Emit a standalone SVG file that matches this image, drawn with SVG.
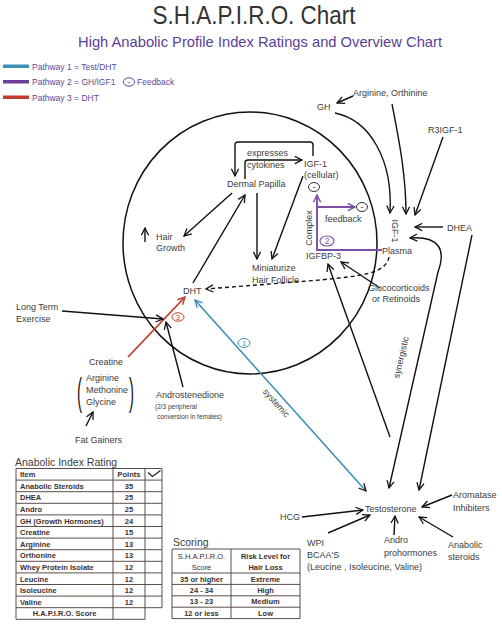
<svg xmlns="http://www.w3.org/2000/svg" width="502" height="628" viewBox="0 0 502 628">
<style>
text{font-family:"Liberation Sans",Arial,sans-serif;}
.l{font-size:9px;fill:#3c3c3c;}
.s{font-size:6.5px;fill:#3c3c3c;}
.lg{font-size:8.5px;fill:#5b4a9e;}
.a{fill:none;stroke:#111;stroke-width:1.4;marker-end:url(#ah);}
.p{fill:none;stroke:#7b4fa8;stroke-width:1.9;}
.tb{font-size:7.5px;font-weight:bold;fill:#3a3030;}
.tr{font-size:7.5px;fill:#3a3030;}
.grid{fill:none;stroke:#5a4d48;stroke-width:1;}
.h{font-size:10.5px;fill:#3c3c3c;}
</style>
<defs>
<marker id="ah" viewBox="0 0 10 10" refX="9" refY="5" markerWidth="9" markerHeight="9" markerUnits="userSpaceOnUse" orient="auto-start-reverse"><path d="M1,1 L9,5 L1,9" fill="none" stroke="#111" stroke-width="1.4"/></marker>
<marker id="ahP" viewBox="0 0 10 10" refX="9" refY="5" markerWidth="9" markerHeight="9" markerUnits="userSpaceOnUse" orient="auto"><path d="M1,1 L9,5 L1,9" fill="none" stroke="#7b4fa8" stroke-width="1.6"/></marker>
<marker id="ahB" viewBox="0 0 10 10" refX="9" refY="5" markerWidth="9" markerHeight="9" markerUnits="userSpaceOnUse" orient="auto"><path d="M1,1 L9,5 L1,9" fill="none" stroke="#3a8fb2" stroke-width="1.5"/></marker>
<marker id="ahR" viewBox="0 0 10 10" refX="9" refY="5" markerWidth="9" markerHeight="9" markerUnits="userSpaceOnUse" orient="auto"><path d="M1,1 L9,5 L1,9" fill="none" stroke="#c23a2b" stroke-width="1.5"/></marker>
</defs>
<rect width="502" height="628" fill="#fff"/>

<g id="title">
<text x="254" y="24" text-anchor="middle" font-family="Roboto, 'Liberation Sans', sans-serif" font-weight="300" font-size="26" fill="#333" textLength="203" lengthAdjust="spacingAndGlyphs">S.H.A.P.I.R.O. Chart</text>
<text x="260" y="47" text-anchor="middle" font-size="15" fill="#5a3f98" textLength="364" lengthAdjust="spacingAndGlyphs">High Anabolic Profile Index Ratings and Overview Chart</text>
</g>

<g id="legend">
<rect x="3" y="64.5" width="26" height="3.5" fill="#3a8fb2"/>
<text class="lg" x="32" y="69.5">Pathway 1 = Test/DHT</text>
<rect x="3" y="80" width="26" height="3.5" fill="#6d3f9a"/>
<text class="lg" x="32" y="85">Pathway 2 = GH/IGF1</text>
<ellipse cx="129" cy="82" rx="5.5" ry="4.2" fill="none" stroke="#5b4a9e" stroke-width="1"/>
<text class="lg" x="129" y="84.5" text-anchor="middle">-</text>
<text class="lg" x="137" y="85">Feedback</text>
<rect x="3" y="95.5" width="26" height="3.5" fill="#c23a2b"/>
<text class="lg" x="32" y="100.5">Pathway 3 = DHT</text>
</g>

<g id="follicle-circle">
<ellipse cx="250" cy="243" rx="127" ry="131" fill="none" stroke="#111" stroke-width="1.5"/>
</g>

<g id="connectors">
<path class="a" d="M313,156 V145 Q313,142 310,142 H238 Q235,142 235,145 V176"/>
<path class="a" d="M245,179 V163 Q245,160 248,160 H302"/>
<path class="a" d="M232,193 L184,236"/>
<path class="a" d="M145,242 V228"/>
<path class="a" d="M193,283 L245,195"/>
<path class="a" d="M257,193 V259"/>
<path class="a" d="M303,176 L272,259"/>
<path class="a" d="M335,113 C370,120 393,160 390,213"/>
<path class="a" d="M353,96 L337,103"/>
<path class="a" d="M392,104 C399,140 406,175 406,214"/>
<path class="a" d="M443,137 L415,215"/>
<path class="a" d="M443,227 H415"/>
<path class="a" d="M410,238 C440,236 446,250 438,272 L389,488" marker-start="url(#ah)"/>
<path class="a" d="M472,235 L419,490"/>
<path class="a" d="M389,257 C386,274 360,276 320,280 L206,289" stroke-dasharray="4,3"/>
<path class="a" d="M380,288 L341,262"/>
<path class="a" d="M390,437 L328,264"/>
<path class="p" d="M382,250 H317 V195" marker-end="url(#ahP)"/>
<path class="p" d="M317,207 H355" marker-end="url(#ahP)"/>
<path d="M366,491 L195,300" fill="none" stroke="#3a8fb2" stroke-width="1.6" marker-end="url(#ahB)" marker-start="url(#ah)"/>
<path d="M128,357 L185,297" fill="none" stroke="#c23a2b" stroke-width="1.8" marker-end="url(#ahR)"/>
<path class="a" d="M62,311 L163,319"/>
<path class="a" d="M183,387 L166,322"/>
<path class="a" d="M86,426 L93,412"/>
<path class="a" d="M302,517 L363,510"/>
<path class="a" d="M328,533 L370,515"/>
<path class="a" d="M394,535 L395,516"/>
<path class="a" d="M452,495 L422,507"/>
<path class="a" d="M453,537 L419,517"/>
</g>

<g id="expresses-cytokines"><text class="l" x="247" y="156">expresses</text><text class="l" x="247" y="168">cytokines</text></g>
<g id="igf1-cellular"><text class="l" x="304" y="166.5">IGF-1</text><text class="l" x="304" y="178">(cellular)</text>
<ellipse cx="314" cy="187" rx="5.5" ry="4.5" fill="#fff" stroke="#333" stroke-width="1"/><text class="l" x="314" y="190" text-anchor="middle">-</text></g>
<g id="dermal-papilla"><text class="l" x="227" y="187">Dermal Papilla</text></g>
<g id="hair-growth"><text class="l" x="156" y="240">Hair</text><text class="l" x="156" y="251">Growth</text></g>
<g id="miniaturize"><text class="l" x="252" y="271">Miniaturize</text><text class="l" x="252" y="283">Hair Follicle</text></g>
<g id="dht"><text class="l" x="183" y="294">DHT</text></g>
<g id="feedback"><text class="l" x="325" y="222">feedback</text>
<ellipse cx="362" cy="207" rx="5.5" ry="4.5" fill="#fff" stroke="#333" stroke-width="1"/><text class="l" x="362" y="210" text-anchor="middle">-</text></g>
<g id="complex"><text class="l" transform="translate(311.5,228) rotate(-90)" text-anchor="middle">Complex</text>
<ellipse cx="327" cy="241" rx="7" ry="5" fill="#fff" stroke="#7b4fa8" stroke-width="1.1"/><text x="327" y="244" text-anchor="middle" font-size="8.5" fill="#7b4fa8">2</text></g>
<g id="igfbp3"><text class="l" x="306" y="258.5">IGFBP-3</text></g>
<g id="plasma"><text class="l" x="382" y="253.5">Plasma</text></g>
<g id="igf1-plasma"><text class="l" transform="translate(392,231) rotate(90)" text-anchor="middle">IGF-1</text></g>
<g id="gh"><text class="l" x="317" y="110">GH</text></g>
<g id="arginine-orthinine"><text class="l" x="353" y="96">Arginine, Orthinine</text></g>
<g id="r3igf1"><text class="l" x="428" y="133">R3IGF-1</text></g>
<g id="dhea"><text class="l" x="447" y="230.5">DHEA</text></g>
<g id="glucocorticoids"><text class="l" x="368" y="291">Glucocorticoids</text><text class="l" x="372" y="302">or Retinoids</text></g>
<g id="long-term-exercise"><text class="l" x="16" y="310">Long Term</text><text class="l" x="16" y="322">Exercise</text></g>
<g id="pathway3-marker"><ellipse cx="178" cy="317" rx="6" ry="4.2" fill="#fff" stroke="#c23a2b" stroke-width="1"/><text x="178" y="319.5" text-anchor="middle" font-size="7" fill="#c23a2b">3</text></g>
<g id="pathway1-marker"><ellipse cx="244" cy="343" rx="6" ry="4.5" fill="#fff" stroke="#3a8fb2" stroke-width="1"/><text x="244" y="345.7" text-anchor="middle" font-size="7.5" fill="#3a8fb2">1</text></g>
<g id="systemic"><text class="l" transform="translate(274,405) rotate(48)" text-anchor="middle">systemic</text></g>
<g id="synergistic"><text class="l" transform="translate(404,358) rotate(-77)" text-anchor="middle">synergistic</text></g>
<g id="creatine"><text class="l" x="89" y="365">Creatine</text></g>
<g id="amino-acids">
<text transform="translate(77,405) scale(1,2.6)" font-size="15" fill="#222">(</text>
<text transform="translate(129,405) scale(1,2.6)" font-size="15" fill="#222">)</text>
<text class="l" x="86" y="381">Arginine</text><text class="l" x="86" y="393">Methonine</text><text class="l" x="86" y="405">Glycine</text></g>
<g id="fat-gainers"><text class="l" x="75" y="443">Fat Gainers</text></g>
<g id="androstenedione"><text class="l" x="156" y="398">Androstenedione</text><text class="s" x="155" y="408.5">(2/3 peripheral</text><text class="s" x="157" y="418.5">conversion in females)</text></g>
<g id="testosterone"><text class="l" x="365" y="512">Testosterone</text></g>
<g id="hcg"><text class="l" x="280" y="520">HCG</text></g>
<g id="wpi-bcaa"><text class="l" x="307" y="546">WPI</text><text class="l" x="307" y="558">BCAA'S</text><text class="l" x="307" y="570">(Leucine , Isoleucine, Valine)</text></g>
<g id="andro-prohormones"><text class="l" x="384" y="543">Andro</text><text class="l" x="384" y="556">prohormones</text></g>
<g id="aromatase-inhibiters"><text class="l" x="453" y="498">Aromatase</text><text class="l" x="453" y="511">Inhibiters</text></g>
<g id="anabolic-steroids"><text class="l" x="448" y="548">Anabolic</text><text class="l" x="448" y="560">steroids</text></g>

<g id="anabolic-index-table">
<text class="h" x="15" y="466">Anabolic Index Rating</text>
<path class="grid" d="M16,468.5 H162 M16,480.1 H162 M16,491.7 H162 M16,503.3 H162 M16,514.9 H162 M16,526.5 H162 M16,538.1 H162 M16,549.7 H162 M16,561.3 H162 M16,572.9 H162 M16,584.5 H162 M16,596.1 H162 M16,607.7 H162 M16,619.3 H145 M16,468.5 V619.3 M113,468.5 V619.3 M145,468.5 V619.3 M162,468.5 V607.7"/>
<path d="M148,472.5 L152.5,476.5 L160.5,470.5" fill="none" stroke="#222" stroke-width="1.2"/>
<text class="tb" x="20" y="477.1">Item</text><text class="tb" x="129" y="477.1" text-anchor="middle">Points</text>
<text class="tb" x="20" y="488.7">Anabolic  Steroids</text><text class="tb" x="129" y="488.7" text-anchor="middle">35</text>
<text class="tb" x="20" y="500.3">DHEA</text><text class="tb" x="129" y="500.3" text-anchor="middle">25</text>
<text class="tb" x="20" y="511.9">Andro</text><text class="tb" x="129" y="511.9" text-anchor="middle">25</text>
<text class="tb" x="20" y="523.5">GH (Growth Hormones)</text><text class="tb" x="129" y="523.5" text-anchor="middle">24</text>
<text class="tb" x="20" y="535.1">Creatine</text><text class="tb" x="129" y="535.1" text-anchor="middle">15</text>
<text class="tb" x="20" y="546.7">Arginine</text><text class="tb" x="129" y="546.7" text-anchor="middle">13</text>
<text class="tb" x="20" y="558.3">Orthonine</text><text class="tb" x="129" y="558.3" text-anchor="middle">13</text>
<text class="tb" x="20" y="569.9">Whey Protein Isolate</text><text class="tb" x="129" y="569.9" text-anchor="middle">12</text>
<text class="tb" x="20" y="581.5">Leucine</text><text class="tb" x="129" y="581.5" text-anchor="middle">12</text>
<text class="tb" x="20" y="593.1">Isoleucine</text><text class="tb" x="129" y="593.1" text-anchor="middle">12</text>
<text class="tb" x="20" y="604.7">Valine</text><text class="tb" x="129" y="604.7" text-anchor="middle">12</text>
<text class="tb" x="64.5" y="616.3" text-anchor="middle">H.A.P.I.R.O. Score</text>
</g>

<g id="scoring-table">
<text class="h" x="173" y="546">Scoring</text>
<path class="grid" d="M172,549 H300 M172,573 H300 M172,584.4 H300 M172,595.8 H300 M172,607.2 H300 M172,618.6 H300 M172,549 V618.6 M231,549 V618.6 M300,549 V618.6"/>
<text class="tr" x="201.5" y="558.5" text-anchor="middle">S.H.A.P.I.R.O.</text><text class="tr" x="201.5" y="569.5" text-anchor="middle">Score</text>
<text class="tb" x="265.5" y="558.5" text-anchor="middle">Risk Level for</text><text class="tb" x="265.5" y="569.5" text-anchor="middle">Hair Loss</text>
<text class="tb" x="201.5" y="581.5" text-anchor="middle">35 or higher</text><text class="tb" x="265.5" y="581.5" text-anchor="middle">Extreme</text>
<text class="tb" x="201.5" y="592.9" text-anchor="middle">24 - 34</text><text class="tb" x="265.5" y="592.9" text-anchor="middle">High</text>
<text class="tb" x="201.5" y="604.3" text-anchor="middle">13 - 23</text><text class="tb" x="265.5" y="604.3" text-anchor="middle">Medium</text>
<text class="tb" x="201.5" y="615.7" text-anchor="middle">12 or less</text><text class="tb" x="265.5" y="615.7" text-anchor="middle">Low</text>
</g>
</svg>
